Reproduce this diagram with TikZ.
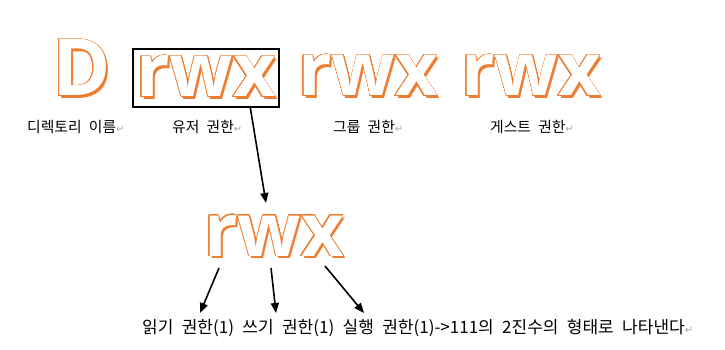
\documentclass[tikz,border=0pt]{standalone}
\usepackage{fontspec}
\setmainfont{Noto Sans CJK KR}[WordSpace=2.2]
\newfontfamily\wafont{Open Sans}
\newfontfamily\djv{DejaVu Sans}
\usepackage[copies]{contour}
\contourlength{0.8pt}
\contournumber{32}
\usetikzlibrary{calc,arrows.meta}
\definecolor{wao}{HTML}{ED7D31}
\definecolor{retgray}{HTML}{A6A6A6}
\newcommand\wart[1]{\rlap{\hspace{2pt}\raisebox{-2pt}{\textcolor{wao}{#1}}}{\color{white}\contour{wao}{#1}}}
\newcommand\ret{{\djv\color{retgray}\fontsize{10}{10}\selectfont ↵}}
\begin{document}
\begin{tikzpicture}[x=1pt,y=-1pt,
  bigd/.style={font=\wafont\bfseries\fontsize{79}{79}\selectfont, inner sep=0pt, anchor=base west},
  big/.style={font=\wafont\bfseries\fontsize{74}{74}\selectfont, inner sep=0pt, anchor=base west},
  lab/.style={font=\fontsize{14.8}{16}\selectfont, inner sep=0pt, anchor=base west},
  labb/.style={font=\fontsize{17}{18}\selectfont, inner sep=0pt, anchor=base west},
  arr/.style={-{Triangle[length=10pt,width=8pt]}, line width=1.6pt}]
\path[use as bounding box] (0,0) rectangle (725,350);
% big letters
\node[bigd] (d) at (52,96) {\wart{D}};
\node[draw, line width=1.8pt, minimum width=146pt, minimum height=58pt, inner sep=0pt] (ubox) at (206,78) {};
\node[big] (u) at (136,97) {\wart{rwx}};
\node[big] (g) at (298,96) {\wart{rwx}};
\node[big] (o) at (461,96) {\wart{rwx}};
\node[big] (p) at (204,256) {\wart{rwx}};
% labels
\node[lab] (ld) at (27,132) {디렉토리 이름\ret};
\node[lab] (lu) at (172,132) {유저 권한\ret};
\node[lab] (lg) at (333,132) {그룹 권한\ret};
\node[lab] (lo) at (490,132) {게스트 권한\ret};
\node[labb] (lb) at (142,333) {읽기 권한(1) 쓰기 권한(1) 실행 권한(1)->111의 2진수의 형태로 나타낸다\ret};
% arrows
\coordinate (a0) at ($(ubox.south east)!0.2!(ubox.south west)$);
\coordinate (t0) at (266,203);
\coordinate (a1) at (219,268);
\coordinate (t1) at (200,313);
\coordinate (a2) at (271,268);
\coordinate (t2) at (276,313);
\coordinate (a3) at (325,266);
\coordinate (t3) at (364,313);
\draw[arr] (a0) -- (t0);
\draw[arr] (a1) -- (t1);
\draw[arr] (a2) -- (t2);
\draw[arr] (a3) -- (t3);
\end{tikzpicture}
\end{document}
